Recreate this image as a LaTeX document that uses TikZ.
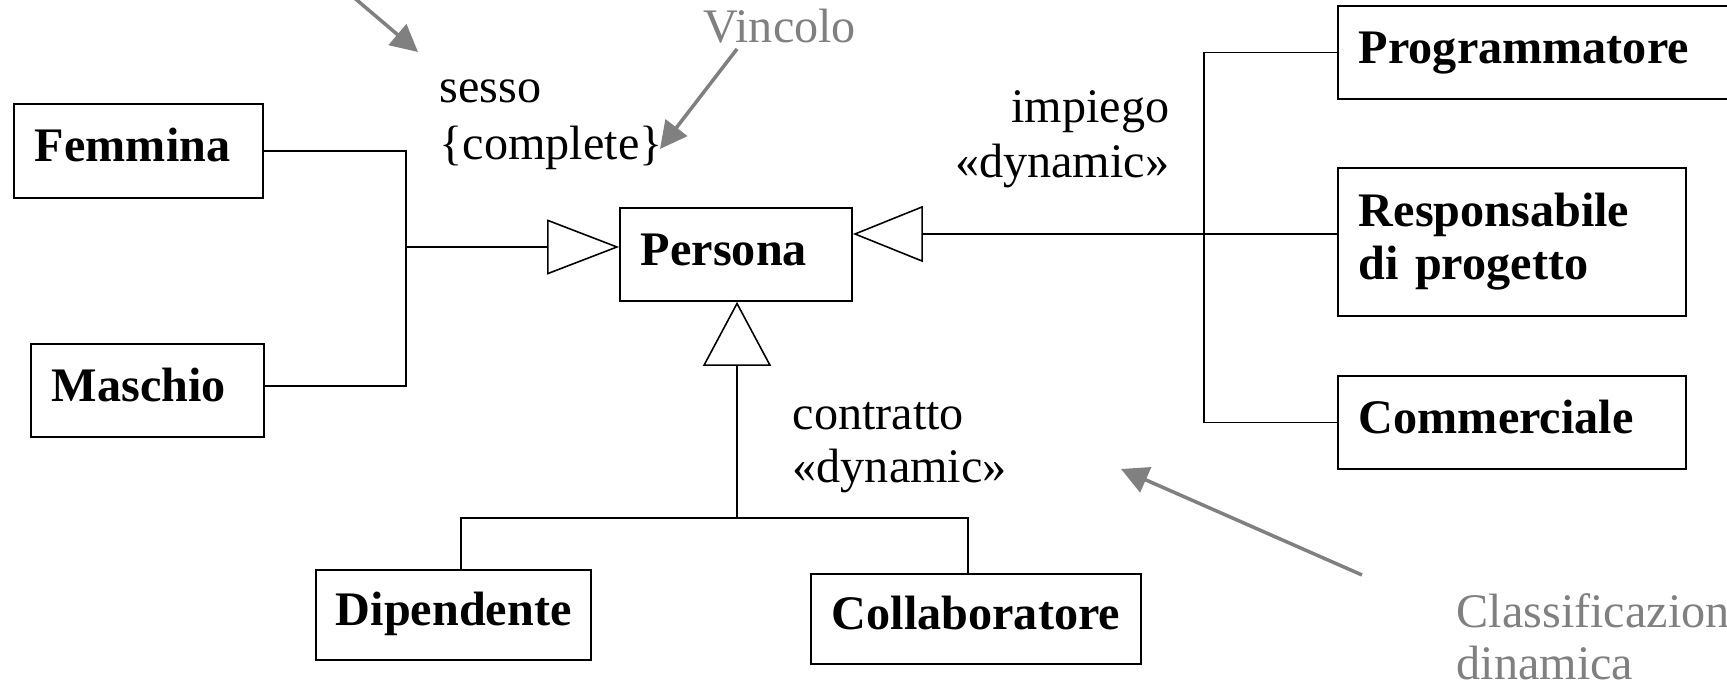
\documentclass[tikz,border=0pt]{standalone}
\usepackage{fontspec}
\setmainfont{Liberation Serif}
\usetikzlibrary{arrows.meta}
\definecolor{notegray}{RGB}{128,128,128}
\newcommand\dsize{\fontsize{13.7pt}{15.1pt}\selectfont}
\begin{document}
\begin{tikzpicture}[x=0.01cm,y=-0.01cm,
  every node/.style={font=\dsize, inner sep=0pt},
  cls/.style={draw, line width=0.45pt, rectangle, inner xsep=0.21cm,
    inner ysep=0pt, align=left, font=\dsize\bfseries},
  oneline/.style={text height=0.33cm, text depth=0.11cm},
  link/.style={line width=0.45pt},
  gen/.style args={#1/#2}{link, -{Triangle[open, length=#1, width=#2]}},
  note/.style={text=notegray},
  pointer/.style={draw=notegray, line width=1pt,
    -{Triangle[length=0.27cm, width=0.27cm]}}
]
\clip (0,0) rectangle (1727,686);

% classes
\node[cls, oneline, text width=2.07cm, minimum height=0.94cm] (femmina) at (138.5,151) {Femmina};
\node[cls, oneline, text width=1.91cm, minimum height=0.93cm] (maschio) at (147.5,390.5) {Maschio};
\node[cls, oneline, text width=1.90cm, minimum height=0.93cm] (persona) at (736,254.5) {Persona};
\node[cls, oneline, inner xsep=0.20cm, text width=2.35cm, minimum height=0.90cm] (dip) at (453.5,615) {Dipendente};
\node[cls, oneline, text width=2.88cm, minimum height=0.90cm] (coll) at (976,619) {Collaboratore};
\node[cls, oneline, text width=3.65cm, minimum height=0.93cm] (prog) at (1541.5,52.5) {Programmatore};
\node[cls, text width=3.06cm, minimum height=1.48cm] (resp) at (1512,242) {Responsabile\\di progetto};
\node[cls, oneline, text width=3.06cm, minimum height=0.93cm] (comm) at (1512,422.5) {Commerciale};

% generalization "sesso"
\coordinate (sj) at (406,247);
\coordinate (mj) at (406,386);
\draw[link] (femmina.east) -| (sj) -- (mj) -- (mj -| maschio.east);
\draw[gen=0.72cm/0.55cm] (sj) -- (sj -| persona.west);

% generalization "impiego"
\coordinate (ij) at (1204,234);
\draw[link] (prog.west) -| (ij) |- (comm.west);
\draw[link] (ij) -- (ij -| resp.west);
\draw[gen=0.70cm/0.56cm] (ij) -- (ij -| persona.east);

% generalization "contratto"
\coordinate (cj) at (737,518);
\coordinate (dj) at (461,518);
\coordinate (kj) at (968,518);
\draw[link] (dj |- dip.north) -- (dj) -- (kj) -- (kj |- coll.north);
\draw[gen=0.64cm/0.68cm] (cj) -- (cj |- persona.south);

% labels
\node[anchor=base west] (sesso) at (439,103) {sesso};
\node[anchor=base west] (complete) at (439,160) {\{complete\}};
\node[anchor=base east] (impiego) at (1170,123) {impiego};
\node[anchor=base east] (impdyn) at (1170,178) {«dynamic»};
\node[anchor=base west] (contratto) at (792,430) {contratto};
\node[anchor=base west] (condyn) at (792,483) {«dynamic»};

% notes
\node[note, anchor=base west] (vincolo) at (703,43) {Vincolo};
\node[note, anchor=base west] (classif) at (1456,628) {Classificazion};
\node[note, anchor=base west] (dinamica) at (1456,680) {dinamica};

\coordinate (p1s) at (345,-10);
\coordinate (p1e) at (418,52);
\coordinate (p2s) at (737,49);
\coordinate (p2e) at (660,149);
\coordinate (p3s) at (1362,575);
\coordinate (p3e) at (1121,469);
\draw[pointer] (p1s) -- (p1e);
\draw[pointer] (p2s) -- (p2e);
\draw[pointer] (p3s) -- (p3e);
\end{tikzpicture}
\end{document}
